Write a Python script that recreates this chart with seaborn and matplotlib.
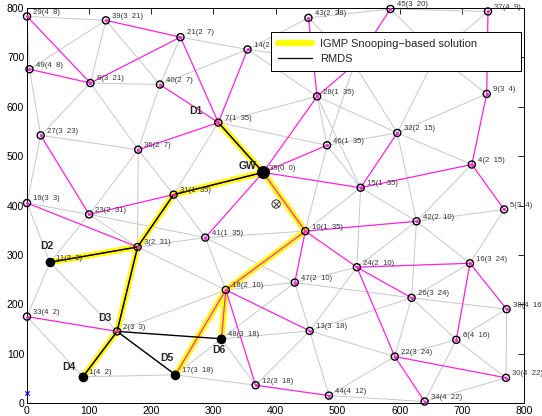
import matplotlib
matplotlib.use("Agg")
import matplotlib.pyplot as plt
from matplotlib.collections import LineCollection
from matplotlib.lines import Line2D
import pandas as pd
import seaborn as sns

# sensor nodes: id, position, hop count and parent in the routing tree
node_id = [29, 39, 21, 49, 8, 40, 27, 14, 43, 28, 7, 45, 37, 9, 32, 36, 31, 19, 23, 3,
           11, 46, 35, 15, 10, 41, 24, 4, 42, 5, 16, 33, 2, 1, 17, 18, 47, 48, 13, 12,
           44, 26, 38, 6, 22, 30, 34, 20, 25]
node_x = [0, 127, 247, 4, 102, 214, 22, 355, 453, 467, 308, 585, 742, 740, 596, 179, 236, 0, 100, 178,
          37, 483, 380, 537, 448, 287, 531, 716, 627, 768, 713, 0, 145, 90, 239, 320, 431, 313, 455, 368,
          486, 619, 772, 691, 592, 771, 640, 527, 659]
node_y = [783, 775, 741, 676, 648, 645, 542, 716, 780, 621, 568, 798, 793, 626, 547, 513, 422, 405, 382, 316,
          285, 522, 467, 436, 348, 335, 275, 483, 368, 392, 283, 175, 145, 53, 57, 229, 244, 130, 146, 36,
          15, 213, 190, 128, 94, 51, 3, 686, 705]
node_hop = [4, 3, 2, 4, 3, 2, 3, 2, 2, 1, 1, 3, 4, 3, 2, 2, 1, 3, 2, 2,
            3, 1, 0, 1, 1, 1, 2, 2, 2, 3, 3, 4, 3, 4, 3, 2, 2, 3, 3, 3,
            4, 3, 4, 4, 3, 4, 4, 2, 3]
node_parent = [8, 21, 7, 8, 21, 7, 23, 7, 28, 35, 35, 20, 9, 4, 15, 7, 35, 3, 31, 31,
               3, 35, 0, 35, 35, 35, 10, 15, 10, 4, 24, 2, 3, 2, 18, 10, 10, 18, 18, 18,
               12, 24, 16, 16, 24, 22, 22, 28, 20]
# nodes sitting under the legend box carry no visible caption
unlabelled = [20, 25]

# radio links between neighbouring nodes
links = [(29, 39), (29, 49), (39, 49), (39, 8), (39, 40), (21, 40), (40, 8), (8, 27), (8, 36),
         (40, 36), (49, 27), (21, 14), (40, 14), (14, 43), (43, 45), (45, 37), (27, 36), (27, 19),
         (36, 3), (36, 31), (36, 23), (31, 7), (31, 41), (3, 41), (41, 10), (19, 23), (19, 11),
         (23, 11), (23, 3), (23, 41), (11, 33), (11, 2), (33, 1), (1, 17), (2, 17), (2, 18),
         (3, 18), (41, 18), (41, 47), (17, 48), (17, 12), (48, 12), (48, 13), (48, 47), (18, 47),
         (47, 24), (47, 13), (47, 26), (13, 44), (13, 24), (13, 26), (13, 22), (13, 12), (44, 22),
         (44, 34), (22, 26), (22, 6), (26, 6), (26, 42), (26, 38), (26, 16), (6, 38), (6, 34),
         (30, 34), (30, 38), (30, 6), (24, 42), (42, 15), (42, 5), (42, 4), (42, 16), (42, 32),
         (16, 5), (15, 46), (15, 10), (15, 24), (15, 28), (46, 32), (46, 28), (46, 7), (46, 10),
         (46, 20), (32, 28), (32, 4), (32, 9), (28, 7), (28, 14), (14, 20), (43, 20), (20, 32),
         (25, 32), (25, 9), (25, 37), (25, 45), (20, 25)]

# multicast solutions
igmp_path = [(11, 3), (3, 31), (31, 35), (7, 35), (3, 2), (2, 1), (35, 10), (10, 18),
             (18, 17), (18, 48)]
rmds_path = [(7, 35), (35, 31), (31, 3), (3, 11), (3, 2), (2, 1), (2, 17), (2, 48)]

destinations = [7, 11, 2, 1, 17, 48]
dest_names = ["D1", "D2", "D3", "D4", "D5", "D6"]
dest_offsets = [(-16, 8), (-2, 11.5), (-9, 10), (-10, 7), (-6, 12), (-2, -8)]
gateway = 35
sink_xy = (401, 403)
origin_xy = (0, 20)

nodes = pd.DataFrame({"id": node_id, "x": node_x, "y": node_y,
                      "hop": node_hop, "parent": node_parent})
pos = {r.id: (r.x, r.y) for r in nodes.itertuples()}
nodes["label"] = [f"{i}({h}  {p})" for i, h, p in zip(node_id, node_hop, node_parent)]


def segs(pairs):
    return [[pos[a], pos[b]] for a, b in pairs]


sns.set_style("white")
plt.rcParams["font.family"] = ["Liberation Sans", "DejaVu Sans"]

fig = plt.figure(figsize=(5.42, 4.16), dpi=100)
ax = fig.add_axes([27 / 542, 1 - 403 / 416, 497 / 542, 395 / 416])

ax.add_collection(LineCollection(segs(links), colors="#c8c8c8", linewidths=0.7, zorder=1))
ax.add_collection(LineCollection(segs(igmp_path), colors="#ffff00", linewidths=4.5,
                                 capstyle="round", zorder=2))
tree = [(i, p) for i, p in zip(node_id, node_parent) if p != 0]
ax.add_collection(LineCollection(segs(tree), colors="#ff22dd", linewidths=0.9, zorder=3))
ax.add_collection(LineCollection(segs(rmds_path), colors="black", linewidths=1.0, zorder=4))

sns.scatterplot(data=nodes, x="x", y="y", ax=ax, s=26, marker="o", facecolor="none",
                edgecolor="black", linewidth=1.0, zorder=5, clip_on=False, legend=False)
sns.scatterplot(data=nodes, x="x", y="y", ax=ax, s=5, marker="o", color="#ff22dd",
                linewidth=0, zorder=6, clip_on=False, legend=False)

dest = nodes[nodes["id"].isin([11, 1, 17, 48])]
ax.scatter(dest["x"], dest["y"], s=34, color="black", zorder=7, clip_on=False)
gx, gy = pos[gateway]
ax.scatter([gx], [gy], s=70, color="black", zorder=7)

for r in nodes.itertuples():
    if r.id in unlabelled:
        continue
    ax.annotate(r.label, (r.x, r.y), xytext=(4.5, 3), textcoords="offset points",
                fontsize=5.6, color="#333333", ha="left", va="center", zorder=8,
                annotation_clip=False)

for n, name, off in zip(destinations, dest_names, dest_offsets):
    ax.annotate(name, pos[n], xytext=off, textcoords="offset points", fontsize=7.5,
                fontweight="bold", ha="center", va="center", zorder=8)
ax.annotate("GW", (gx, gy), xytext=(-11, 4.5), textcoords="offset points", fontsize=7.5,
            fontweight="bold", ha="center", va="center", zorder=8)

ax.scatter([sink_xy[0]], [sink_xy[1]], s=36, facecolor="none", edgecolor="#333333",
           linewidth=0.7, zorder=6)
ax.scatter([sink_xy[0]], [sink_xy[1]], s=14, marker="x", color="#333333", linewidth=0.7, zorder=6)
ax.scatter([origin_xy[0]], [origin_xy[1]], s=10, marker="x", color="blue", linewidth=0.8,
           zorder=6, clip_on=False)

ax.set_xlim(0, 800)
ax.set_ylim(0, 800)
ticks = list(range(0, 801, 100))
ax.set_xticks(ticks)
ax.set_yticks(ticks)
ax.tick_params(direction="in", length=4, width=0.6, labelsize=7.5, top=True, right=True,
               pad=2, colors="black")
ax.set_xlabel("")
ax.set_ylabel("")
for s in ax.spines.values():
    s.set_visible(True)
    s.set_color("black")
    s.set_linewidth(0.7)

handles = [Line2D([], [], color="#ffff00", lw=4.5),
           Line2D([], [], color="black", lw=0.9)]
leg = ax.legend(handles, ["IGMP Snooping\u2212based solution", "RMDS"],
                loc="upper left", bbox_to_anchor=(0.491, 0.835, 0.503, 0.104), mode="expand",
                fontsize=8, frameon=True, fancybox=False, edgecolor="black", framealpha=1,
                handlelength=3.1, handletextpad=0.7, borderpad=0.6, labelspacing=0.5,
                borderaxespad=0)
leg.set_zorder(20)
leg.get_frame().set_linewidth(0.7)

fig.savefig("out.png", dpi=100)
